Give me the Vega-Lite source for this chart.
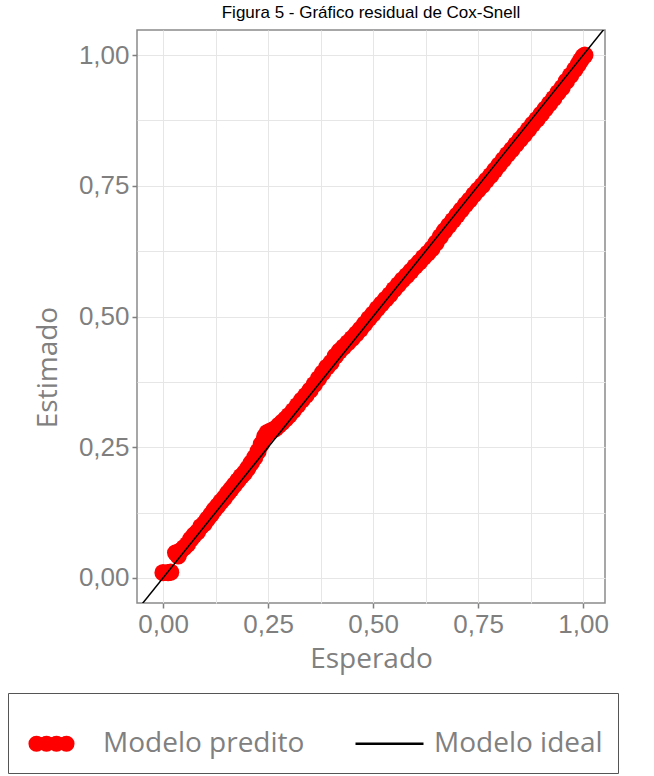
{
  "$schema": "https://vega.github.io/schema/vega-lite/v6.json",
  "width": 468,
  "height": 573,
  "autosize": {"type": "none"},
  "padding": {"left": 137, "top": 30, "right": 49, "bottom": 173},
  "background": "white",
  "title": {
    "text": "Figura 5 -  Gráfico residual de Cox-Snell",
    "font": "Liberation Sans",
    "fontSize": 17,
    "fontWeight": "normal",
    "color": "#000000",
    "anchor": "middle",
    "offset": 8
  },
  "config": {
    "view": {"stroke": "#8a8a8a", "strokeWidth": 1.5},
    "axis": {
      "domain": false,
      "gridColor": "#e6e6e6",
      "gridWidth": 1,
      "tickColor": "#7f7f7f",
      "tickWidth": 1.5,
      "tickSize": 5,
      "labelFont": "Liberation Sans",
      "labelFontSize": 26,
      "labelColor": "#7f7f7f",
      "labelPadding": 3,
      "titleFont": "Open Sans",
      "titleFontSize": 28,
      "titleFontWeight": "normal",
      "titleColor": "#808080"
    },
    "legend": {
      "symbolStrokeWidth": 2.5,
      "symbolOpacity": 1
    }
  },
  "layer": [
    {
      "data": {
        "values": [
          {"esperado": 0.000, "estimado": 0.010, "serie": "Modelo predito"},
          {"esperado": 0.012, "estimado": 0.010, "serie": "Modelo predito"},
          {"esperado": 0.018, "estimado": 0.011, "serie": "Modelo predito"},
          {"esperado": 0.030, "estimado": 0.048, "serie": "Modelo predito"},
          {"esperado": 0.036, "estimado": 0.042, "serie": "Modelo predito"},
          {"esperado": 0.042, "estimado": 0.052, "serie": "Modelo predito"},
          {"esperado": 0.050, "estimado": 0.058, "serie": "Modelo predito"},
          {"esperado": 0.058, "estimado": 0.064, "serie": "Modelo predito"},
          {"esperado": 0.066, "estimado": 0.074, "serie": "Modelo predito"},
          {"esperado": 0.074, "estimado": 0.082, "serie": "Modelo predito"},
          {"esperado": 0.082, "estimado": 0.088, "serie": "Modelo predito"},
          {"esperado": 0.090, "estimado": 0.098, "serie": "Modelo predito"},
          {"esperado": 0.098, "estimado": 0.104, "serie": "Modelo predito"},
          {"esperado": 0.106, "estimado": 0.113, "serie": "Modelo predito"},
          {"esperado": 0.114, "estimado": 0.121, "serie": "Modelo predito"},
          {"esperado": 0.122, "estimado": 0.130, "serie": "Modelo predito"},
          {"esperado": 0.130, "estimado": 0.138, "serie": "Modelo predito"},
          {"esperado": 0.138, "estimado": 0.146, "serie": "Modelo predito"},
          {"esperado": 0.146, "estimado": 0.153, "serie": "Modelo predito"},
          {"esperado": 0.154, "estimado": 0.162, "serie": "Modelo predito"},
          {"esperado": 0.162, "estimado": 0.170, "serie": "Modelo predito"},
          {"esperado": 0.170, "estimado": 0.178, "serie": "Modelo predito"},
          {"esperado": 0.178, "estimado": 0.186, "serie": "Modelo predito"},
          {"esperado": 0.186, "estimado": 0.194, "serie": "Modelo predito"},
          {"esperado": 0.194, "estimado": 0.201, "serie": "Modelo predito"},
          {"esperado": 0.202, "estimado": 0.210, "serie": "Modelo predito"},
          {"esperado": 0.210, "estimado": 0.220, "serie": "Modelo predito"},
          {"esperado": 0.218, "estimado": 0.230, "serie": "Modelo predito"},
          {"esperado": 0.226, "estimado": 0.242, "serie": "Modelo predito"},
          {"esperado": 0.234, "estimado": 0.256, "serie": "Modelo predito"},
          {"esperado": 0.242, "estimado": 0.270, "serie": "Modelo predito"},
          {"esperado": 0.248, "estimado": 0.278, "serie": "Modelo predito"},
          {"esperado": 0.254, "estimado": 0.280, "serie": "Modelo predito"},
          {"esperado": 0.260, "estimado": 0.282, "serie": "Modelo predito"},
          {"esperado": 0.268, "estimado": 0.286, "serie": "Modelo predito"},
          {"esperado": 0.276, "estimado": 0.292, "serie": "Modelo predito"},
          {"esperado": 0.284, "estimado": 0.298, "serie": "Modelo predito"},
          {"esperado": 0.292, "estimado": 0.304, "serie": "Modelo predito"},
          {"esperado": 0.300, "estimado": 0.311, "serie": "Modelo predito"},
          {"esperado": 0.310, "estimado": 0.320, "serie": "Modelo predito"},
          {"esperado": 0.320, "estimado": 0.330, "serie": "Modelo predito"},
          {"esperado": 0.330, "estimado": 0.340, "serie": "Modelo predito"},
          {"esperado": 0.340, "estimado": 0.349, "serie": "Modelo predito"},
          {"esperado": 0.350, "estimado": 0.359, "serie": "Modelo predito"},
          {"esperado": 0.360, "estimado": 0.370, "serie": "Modelo predito"},
          {"esperado": 0.370, "estimado": 0.381, "serie": "Modelo predito"},
          {"esperado": 0.380, "estimado": 0.392, "serie": "Modelo predito"},
          {"esperado": 0.390, "estimado": 0.403, "serie": "Modelo predito"},
          {"esperado": 0.400, "estimado": 0.412, "serie": "Modelo predito"},
          {"esperado": 0.410, "estimado": 0.424, "serie": "Modelo predito"},
          {"esperado": 0.420, "estimado": 0.434, "serie": "Modelo predito"},
          {"esperado": 0.430, "estimado": 0.442, "serie": "Modelo predito"},
          {"esperado": 0.440, "estimado": 0.450, "serie": "Modelo predito"},
          {"esperado": 0.450, "estimado": 0.458, "serie": "Modelo predito"},
          {"esperado": 0.460, "estimado": 0.467, "serie": "Modelo predito"},
          {"esperado": 0.470, "estimado": 0.476, "serie": "Modelo predito"},
          {"esperado": 0.480, "estimado": 0.486, "serie": "Modelo predito"},
          {"esperado": 0.490, "estimado": 0.496, "serie": "Modelo predito"},
          {"esperado": 0.500, "estimado": 0.505, "serie": "Modelo predito"},
          {"esperado": 0.510, "estimado": 0.515, "serie": "Modelo predito"},
          {"esperado": 0.520, "estimado": 0.524, "serie": "Modelo predito"},
          {"esperado": 0.530, "estimado": 0.533, "serie": "Modelo predito"},
          {"esperado": 0.540, "estimado": 0.542, "serie": "Modelo predito"},
          {"esperado": 0.550, "estimado": 0.552, "serie": "Modelo predito"},
          {"esperado": 0.560, "estimado": 0.561, "serie": "Modelo predito"},
          {"esperado": 0.570, "estimado": 0.570, "serie": "Modelo predito"},
          {"esperado": 0.580, "estimado": 0.578, "serie": "Modelo predito"},
          {"esperado": 0.590, "estimado": 0.587, "serie": "Modelo predito"},
          {"esperado": 0.600, "estimado": 0.596, "serie": "Modelo predito"},
          {"esperado": 0.610, "estimado": 0.604, "serie": "Modelo predito"},
          {"esperado": 0.620, "estimado": 0.613, "serie": "Modelo predito"},
          {"esperado": 0.630, "estimado": 0.621, "serie": "Modelo predito"},
          {"esperado": 0.640, "estimado": 0.630, "serie": "Modelo predito"},
          {"esperado": 0.650, "estimado": 0.641, "serie": "Modelo predito"},
          {"esperado": 0.660, "estimado": 0.653, "serie": "Modelo predito"},
          {"esperado": 0.670, "estimado": 0.664, "serie": "Modelo predito"},
          {"esperado": 0.680, "estimado": 0.674, "serie": "Modelo predito"},
          {"esperado": 0.690, "estimado": 0.684, "serie": "Modelo predito"},
          {"esperado": 0.700, "estimado": 0.694, "serie": "Modelo predito"},
          {"esperado": 0.710, "estimado": 0.704, "serie": "Modelo predito"},
          {"esperado": 0.720, "estimado": 0.714, "serie": "Modelo predito"},
          {"esperado": 0.730, "estimado": 0.723, "serie": "Modelo predito"},
          {"esperado": 0.740, "estimado": 0.733, "serie": "Modelo predito"},
          {"esperado": 0.750, "estimado": 0.742, "serie": "Modelo predito"},
          {"esperado": 0.760, "estimado": 0.751, "serie": "Modelo predito"},
          {"esperado": 0.770, "estimado": 0.761, "serie": "Modelo predito"},
          {"esperado": 0.780, "estimado": 0.770, "serie": "Modelo predito"},
          {"esperado": 0.790, "estimado": 0.780, "serie": "Modelo predito"},
          {"esperado": 0.800, "estimado": 0.790, "serie": "Modelo predito"},
          {"esperado": 0.810, "estimado": 0.800, "serie": "Modelo predito"},
          {"esperado": 0.820, "estimado": 0.810, "serie": "Modelo predito"},
          {"esperado": 0.830, "estimado": 0.819, "serie": "Modelo predito"},
          {"esperado": 0.840, "estimado": 0.829, "serie": "Modelo predito"},
          {"esperado": 0.850, "estimado": 0.839, "serie": "Modelo predito"},
          {"esperado": 0.860, "estimado": 0.848, "serie": "Modelo predito"},
          {"esperado": 0.870, "estimado": 0.858, "serie": "Modelo predito"},
          {"esperado": 0.880, "estimado": 0.868, "serie": "Modelo predito"},
          {"esperado": 0.890, "estimado": 0.877, "serie": "Modelo predito"},
          {"esperado": 0.900, "estimado": 0.887, "serie": "Modelo predito"},
          {"esperado": 0.910, "estimado": 0.897, "serie": "Modelo predito"},
          {"esperado": 0.920, "estimado": 0.907, "serie": "Modelo predito"},
          {"esperado": 0.930, "estimado": 0.917, "serie": "Modelo predito"},
          {"esperado": 0.940, "estimado": 0.928, "serie": "Modelo predito"},
          {"esperado": 0.950, "estimado": 0.938, "serie": "Modelo predito"},
          {"esperado": 0.960, "estimado": 0.950, "serie": "Modelo predito"},
          {"esperado": 0.970, "estimado": 0.961, "serie": "Modelo predito"},
          {"esperado": 0.980, "estimado": 0.972, "serie": "Modelo predito"},
          {"esperado": 0.988, "estimado": 0.982, "serie": "Modelo predito"},
          {"esperado": 0.994, "estimado": 0.990, "serie": "Modelo predito"},
          {"esperado": 1.000, "estimado": 0.997, "serie": "Modelo predito"},
          {"esperado": 1.004, "estimado": 1.000, "serie": "Modelo predito"}
        ]
      },
      "mark": {"type": "point", "filled": true, "opacity": 1, "size": 300},
      "encoding": {
        "x": {
          "field": "esperado", "type": "quantitative",
          "scale": {"domain": [-0.062, 1.052], "nice": false, "zero": false},
          "axis": {
            "title": "Esperado",
            "titlePadding": 8,
            "values": [0, 0.125, 0.25, 0.375, 0.5, 0.625, 0.75, 0.875, 1],
            "labelExpr": "(datum.value * 8) % 2 == 0 ? replace(format(datum.value, '.2f'), '.', ',') : ''",
            "tickOpacity": {"condition": {"test": "(datum.value * 8) % 2 == 1", "value": 0}, "value": 1}
          }
        },
        "y": {
          "field": "estimado", "type": "quantitative",
          "scale": {"domain": [-0.048, 1.048], "nice": false, "zero": false},
          "axis": {
            "title": "Estimado",
            "titlePadding": 16,
            "titleY": 337,
            "values": [0, 0.125, 0.25, 0.375, 0.5, 0.625, 0.75, 0.875, 1],
            "labelExpr": "(datum.value * 8) % 2 == 0 ? replace(format(datum.value, '.2f'), '.', ',') : ''",
            "tickOpacity": {"condition": {"test": "(datum.value * 8) % 2 == 1", "value": 0}, "value": 1}
          }
        },
        "color": {
          "field": "serie", "type": "nominal",
          "scale": {"domain": ["Modelo predito", "Modelo ideal"], "range": ["#ff0000", "#000000"]}
        }
      }
    },
    {
      "data": {
        "values": [
          {"esperado": -0.1, "estimado": -0.1, "serie": "Modelo ideal"},
          {"esperado": 1.1, "estimado": 1.1, "serie": "Modelo ideal"}
        ]
      },
      "mark": {"type": "line", "clip": true, "strokeWidth": 1.5},
      "encoding": {
        "x": {"field": "esperado", "type": "quantitative"},
        "y": {"field": "estimado", "type": "quantitative"},
        "color": {"field": "serie", "type": "nominal"}
      }
    },
    {
      "data": {
        "values": [
          {"esperado": -0.1, "estimado": -0.1, "serie": "Modelo ideal"},
          {"esperado": 1.1, "estimado": 1.1, "serie": "Modelo ideal"}
        ]
      },
      "mark": {"type": "point", "filled": true, "opacity": 0, "clip": true},
      "encoding": {
        "x": {"field": "esperado", "type": "quantitative"},
        "y": {"field": "estimado", "type": "quantitative"},
        "color": {
          "field": "serie", "type": "nominal",
          "legend": {
            "title": null,
            "orient": "none",
            "legendX": -129,
            "legendY": 663,
            "direction": "horizontal",
            "strokeColor": "#555555",
            "padding": 15,
            "labelFont": "Open Sans",
            "labelFontSize": 28,
            "labelColor": "#808080",
            "labelLimit": 400,
            "labelOffset": 9,
            "columnPadding": 45,
            "symbolSize": 4624,
            "symbolStrokeWidth": 2.5,
            "symbolOpacity": 1,
            "values": ["Modelo predito", "Modelo ideal"]
          }
        },
        "stroke": {
          "field": "serie", "type": "nominal",
          "scale": {"domain": ["Modelo predito", "Modelo ideal"], "range": ["#ff0000", "#000000"]},
          "legend": {
            "title": null,
            "orient": "none",
            "legendX": -129,
            "legendY": 663,
            "direction": "horizontal",
            "strokeColor": "#555555",
            "padding": 15,
            "labelFont": "Open Sans",
            "labelFontSize": 28,
            "labelColor": "#808080",
            "labelLimit": 400,
            "labelOffset": 9,
            "columnPadding": 45,
            "symbolSize": 4624,
            "symbolStrokeWidth": 2.5,
            "symbolOpacity": 1,
            "values": ["Modelo predito", "Modelo ideal"]
          }
        },
        "shape": {
          "field": "serie", "type": "nominal",
          "scale": {
            "domain": ["Modelo predito", "Modelo ideal"],
            "range": ["M -0.847 0 A 0.2 0.2 0 1 0 -0.447 0 A 0.2 0.2 0 1 0 -0.847 0 Z M -0.553 0 A 0.2 0.2 0 1 0 -0.153 0 A 0.2 0.2 0 1 0 -0.553 0 Z M -0.259 0 A 0.2 0.2 0 1 0 0.141 0 A 0.2 0.2 0 1 0 -0.259 0 Z M 0.035 0 A 0.2 0.2 0 1 0 0.435 0 A 0.2 0.2 0 1 0 0.035 0 Z", "stroke"]
          },
          "legend": {
            "title": null,
            "orient": "none",
            "legendX": -129,
            "legendY": 663,
            "direction": "horizontal",
            "strokeColor": "#555555",
            "padding": 15,
            "labelFont": "Open Sans",
            "labelFontSize": 28,
            "labelColor": "#808080",
            "labelLimit": 400,
            "labelOffset": 9,
            "columnPadding": 45,
            "symbolSize": 4624,
            "symbolStrokeWidth": 2.5,
            "symbolOpacity": 1,
            "values": ["Modelo predito", "Modelo ideal"]
          }
        }
      }
    }
  ]
}
